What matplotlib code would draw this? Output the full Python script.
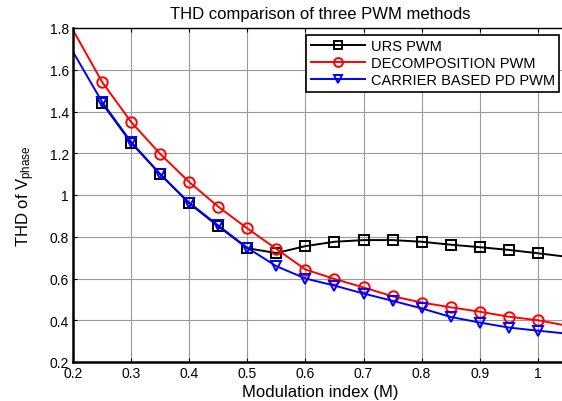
import matplotlib
matplotlib.use("Agg")
import matplotlib.pyplot as plt

plt.rcParams['font.family'] = ['Liberation Sans', 'DejaVu Sans']
plt.rcParams['mathtext.fontset'] = 'custom'
plt.rcParams['mathtext.rm'] = 'Liberation Sans'
plt.rcParams['mathtext.it'] = 'Liberation Sans:italic'

m_urs = [0.25, 0.3, 0.35, 0.4, 0.45, 0.5, 0.55, 0.6, 0.65, 0.7, 0.75, 0.8, 0.85, 0.9, 0.95, 1.0, 1.05]
thd_urs = [1.44, 1.25, 1.10, 0.96, 0.85, 0.745, 0.722, 0.755, 0.776, 0.784, 0.784, 0.776, 0.762, 0.75, 0.737, 0.721, 0.704]

m_all = [0.2, 0.25, 0.3, 0.35, 0.4, 0.45, 0.5, 0.55, 0.6, 0.65, 0.7, 0.75, 0.8, 0.85, 0.9, 0.95, 1.0, 1.05]
thd_dec = [1.79, 1.542, 1.35, 1.197, 1.062, 0.944, 0.84, 0.742, 0.643, 0.598, 0.557, 0.515, 0.485, 0.462, 0.441, 0.417, 0.40, 0.374]
thd_pd = [1.686, 1.446, 1.254, 1.10, 0.963, 0.854, 0.747, 0.659, 0.60, 0.566, 0.528, 0.493, 0.457, 0.416, 0.389, 0.365, 0.35, 0.336]

xticks = [0.2, 0.3, 0.4, 0.5, 0.6, 0.7, 0.8, 0.9, 1.0]
xticklabels = ['0.2', '0.3', '0.4', '0.5', '0.6', '0.7', '0.8', '0.9', '1']
yticks = [0.2, 0.4, 0.6, 0.8, 1.0, 1.2, 1.4, 1.6, 1.8]
yticklabels = ['0.2', '0.4', '0.6', '0.8', '1', '1.2', '1.4', '1.6', '1.8']

W, H = 562, 402
fig = plt.figure(figsize=(W/100, H/100), dpi=100)
left, top, bottom = 73, 29, 363
xmin, xmax = 0.2, 1.05
right = left + (xmax - xmin) / 0.1 * 58.1
ax = fig.add_axes([left/W, 1 - bottom/H, (right-left)/W, (bottom-top)/H])

ax.plot(m_urs, thd_urs, color='black', lw=1.4, marker='s', ms=7.5, mfc='none', mew=1.4,
        markevery=slice(0, len(m_urs)-1), label='URS PWM')
ax.plot(m_all, thd_dec, color='red', lw=1.4, marker='o', ms=7.5, mfc='none', mew=1.4,
        markevery=slice(1, len(m_all)-1), label='DECOMPOSITION PWM')
ax.plot(m_all, thd_pd, color='blue', lw=1.4, marker='v', ms=7.5, mfc='none', mew=1.4,
        markevery=slice(1, len(m_all)-1), label='CARRIER BASED PD PWM')

ax.set_xlim(xmin, xmax)
ax.set_ylim(0.2, 1.8)
ax.set_xticks(xticks)
ax.set_xticklabels(xticklabels)
ax.set_yticks(yticks)
ax.set_yticklabels(yticklabels)
ax.tick_params(direction='in', labelsize=10, length=3, top=True, right=True, pad=3)
ax.grid(True, color='#9a9a9a', lw=0.8, ls='-')
for s in ax.spines.values():
    s.set_linewidth(1.0)
ax.spines['left'].set_linewidth(1.8)
ax.spines['bottom'].set_linewidth(1.8)

ax.set_title('THD comparison of three PWM methods', fontsize=12, pad=7)
ax.set_xlabel('Modulation index (M)', fontsize=12, labelpad=3)
ax.set_ylabel('THD of V$_{\\mathrm{phase}}$', fontsize=12, labelpad=9)

leg = ax.legend(loc='upper right', bbox_to_anchor=((559-left)/(right-left), (bottom-36)/(bottom-top)),
                fontsize=10.5, fancybox=False, framealpha=1, edgecolor='black',
                borderpad=0.3, labelspacing=0.2, handlelength=3.7, handletextpad=0.4,
                borderaxespad=0, markerscale=0.85)
leg.get_frame().set_linewidth(1.2)

fig.savefig('out.png', dpi=100)
